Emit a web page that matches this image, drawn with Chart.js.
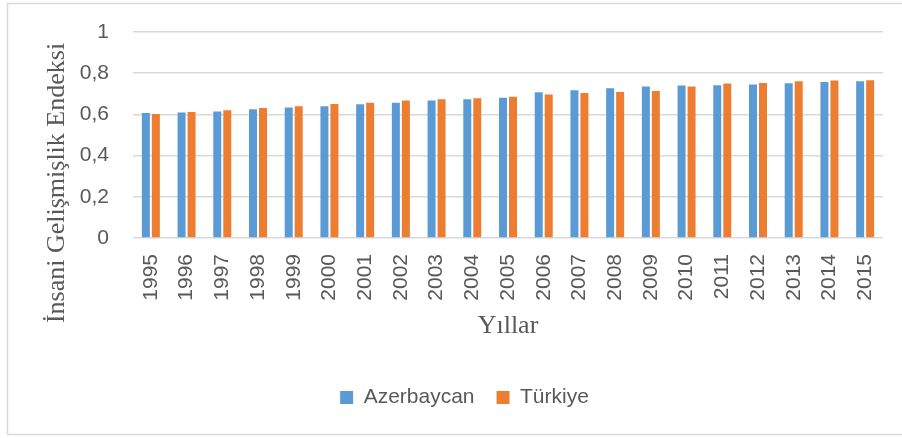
<!DOCTYPE html>
<html>
<head>
<meta charset="utf-8">
<script src="https://cdn.jsdelivr.net/npm/chart.js@4.4.0/dist/chart.umd.min.js"></script>
<style>
  html, body { margin: 0; padding: 0; background: #ffffff; }
  #wrap { position: relative; width: 902px; height: 438px; }
</style>
</head>
<body>
<div id="wrap"><canvas id="c" width="902" height="438"></canvas></div>
<script>
const years = ['1995','1996','1997','1998','1999','2000','2001','2002','2003','2004','2005','2006','2007','2008','2009','2010','2011','2012','2013','2014','2015'];
const azerbaycan = [0.607,0.609,0.614,0.625,0.634,0.639,0.649,0.657,0.667,0.673,0.681,0.707,0.717,0.727,0.736,0.740,0.741,0.745,0.751,0.757,0.761];
const turkiye    = [0.602,0.612,0.620,0.631,0.639,0.650,0.657,0.667,0.673,0.678,0.686,0.696,0.704,0.709,0.714,0.736,0.750,0.752,0.761,0.764,0.766];
const yTickValues = [0, 0.2, 0.4, 0.6, 0.8, 1];
const yTickLabels = ['0', '0,2', '0,4', '0,6', '0,8', '1'];
const seriesNames = ['Azerbaycan', 'Türkiye'];
const yTitle = 'İnsani Gelişmişlik Endeksi';
const xTitle = 'Yıllar';

const frame = {
  id: 'frame',
  beforeDraw(chart) {
    const ctx = chart.ctx;
    ctx.save();
    ctx.strokeStyle = '#d9d9d9';
    ctx.lineWidth = 1.5;
    ctx.beginPath();
    ctx.moveTo(910, 3.5);
    ctx.lineTo(7.5, 3.5);
    ctx.lineTo(7.5, 434.5);
    ctx.lineTo(910, 434.5);
    ctx.stroke();
    ctx.restore();
  }
};

const yTitlePlugin = {
  id: 'yTitlePlugin',
  afterDraw(chart) {
    const ctx = chart.ctx;
    ctx.save();
    ctx.translate(57, 183);
    ctx.rotate(-Math.PI / 2);
    ctx.font = '26px "Liberation Serif", "Times New Roman", serif';
    ctx.fillStyle = '#595959';
    ctx.textAlign = 'center';
    ctx.textBaseline = 'middle';
    ctx.fillText(yTitle, 0, 0);
    ctx.restore();
  }
};

new Chart(document.getElementById('c'), {
  type: 'bar',
  data: {
    labels: years,
    datasets: [
      { label: seriesNames[0], data: azerbaycan, backgroundColor: '#5B9BD5', categoryPercentage: 0.56, barPercentage: 0.8 },
      { label: seriesNames[1], data: turkiye, backgroundColor: '#ED7D31', categoryPercentage: 0.56, barPercentage: 0.8 }
    ]
  },
  options: {
    responsive: false,
    animation: false,
    layout: { padding: { top: 32, right: 19, bottom: 20, left: 46 } },
    plugins: {
      tooltip: { enabled: false },
      legend: {
        position: 'bottom',
        labels: {
          boxWidth: 13,
          boxHeight: 13,
          padding: 22,
          color: '#595959',
          font: { family: '"Liberation Sans", Arial, sans-serif', size: 21 }
        }
      }
    },
    scales: {
      x: {
        grid: { display: false, drawTicks: false },
        border: { display: false },
        ticks: {
          color: '#595959',
          font: { family: '"Liberation Sans", Arial, sans-serif', size: 21 },
          minRotation: 90,
          maxRotation: 90,
          autoSkip: false,
          padding: 16
        },
        title: {
          display: true,
          text: xTitle,
          color: '#595959',
          font: { family: '"Liberation Serif", "Times New Roman", serif', size: 26 },
          padding: { top: 0, bottom: 23 }
        },
        afterFit(scale) { scale.height = 127; scale.paddingLeft = 0; scale.paddingRight = 0; }
      },
      y: {
        min: 0,
        max: 1,
        afterBuildTicks(scale) { scale.ticks = yTickValues.map(v => ({ value: v })); },
        grid: { color: '#d9d9d9', lineWidth: 1.5, drawTicks: false },
        border: { display: false },
        ticks: {
          color: '#595959',
          font: { family: '"Liberation Sans", Arial, sans-serif', size: 21 },
          padding: 24,
          callback(value) {
            const i = yTickValues.findIndex(v => Math.abs(v - value) < 1e-9);
            return i >= 0 ? yTickLabels[i] : '';
          }
        },
        afterFit(scale) { scale.width = 87; scale.paddingTop = 0; scale.paddingBottom = 0; }
      }
    }
  },
  plugins: [frame, yTitlePlugin]
});
</script>
</body>
</html>
